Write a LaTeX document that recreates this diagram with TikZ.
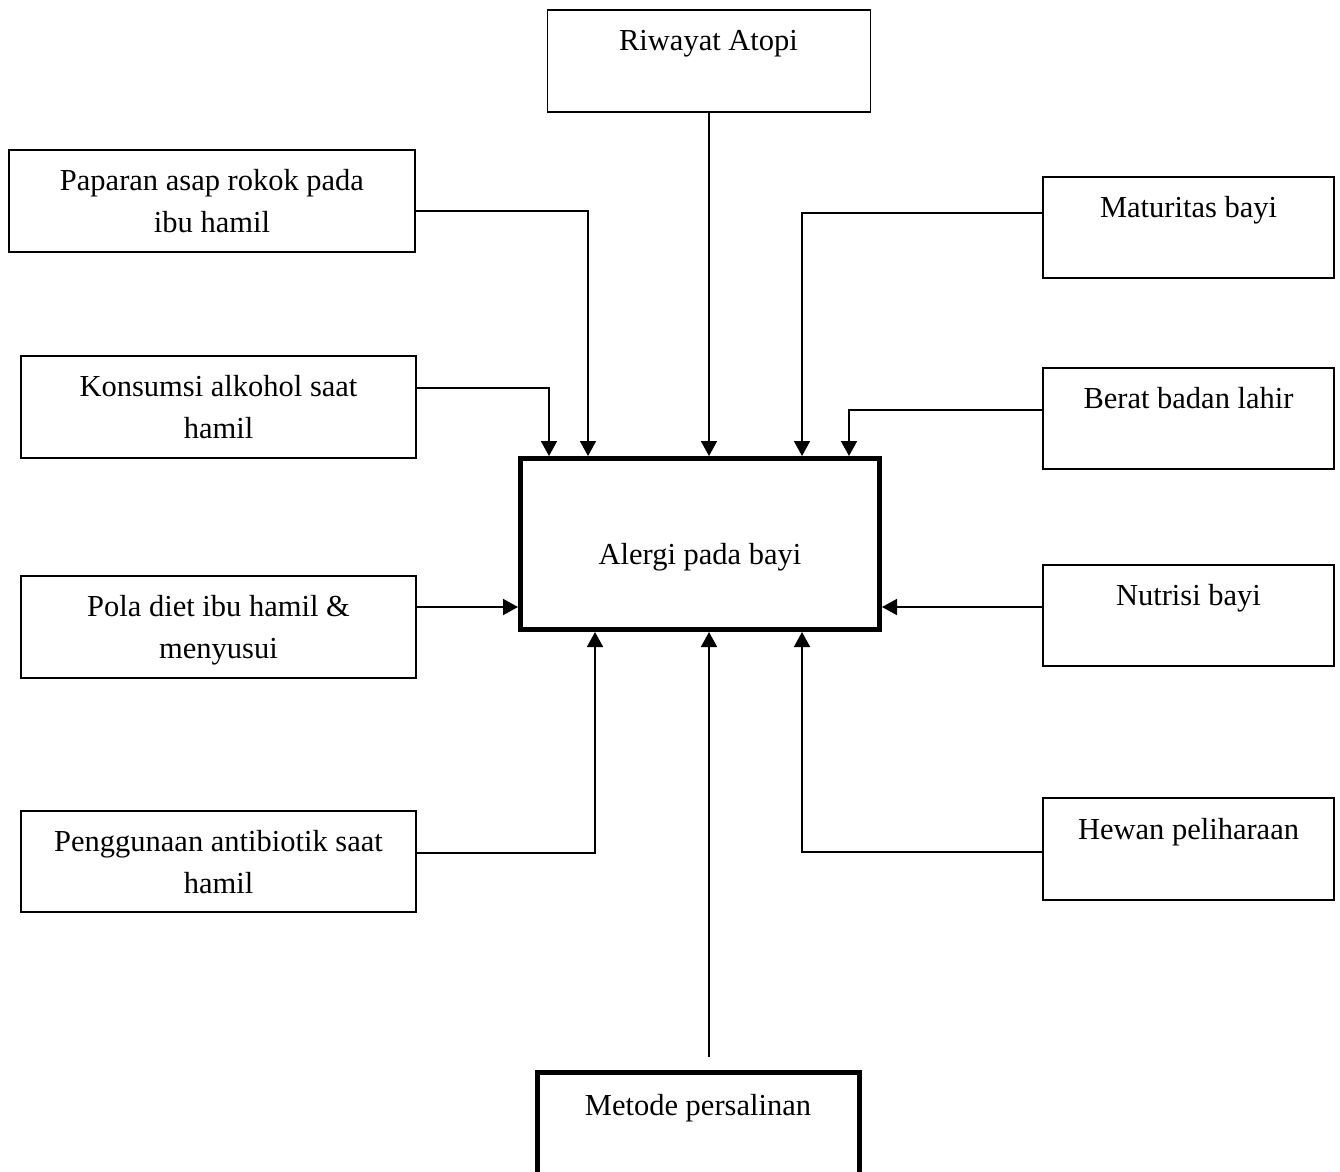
\documentclass[tikz,border=0pt]{standalone}
\usepackage{fontspec}
\setmainfont{Liberation Serif}
\usetikzlibrary{arrows.meta}
\begin{document}
\begin{tikzpicture}[x=1pt,y=-1pt,
  box/.style={draw=black, line width=1.4pt, rectangle, inner sep=0pt, minimum height=102pt},
  lbox/.style={box, minimum width=395pt},
  rbox/.style={box, minimum width=291pt},
  thickbox/.style={draw=black, line width=5pt, rectangle, inner sep=0pt},
  lbl/.style={anchor=base, inner sep=0pt, font=\fontsize{30.5}{42}\selectfont},
  conn/.style={line width=1.7pt},
  arr/.style={conn, -{Triangle[width=16pt,length=15pt]}}]
\useasboundingbox (0,0) rectangle (1340,1171);
\clip (0,0) rectangle (1340,1171);
\fill[white] (0,0) rectangle (1340,1171);
% boxes
\node[box, minimum width=323pt] (riw) at (709,61) {};
\node[box, minimum width=406pt] (pap) at (212,201) {};
\node[lbox] (kon) at (218.5,407) {};
\node[lbox] (pol) at (218.5,627) {};
\node[lbox, minimum height=101pt] (pen) at (218.5,861.5) {};
\node[rbox, minimum height=101pt] (mat) at (1188.5,227.5) {};
\node[rbox, minimum height=101pt] (ber) at (1188.5,418.5) {};
\node[rbox, minimum height=101pt] (nut) at (1188.5,615.5) {};
\node[rbox] (hew) at (1188.5,849) {};
\node[thickbox, minimum width=359pt, minimum height=171pt] (alg) at (700,544) {};
\node[thickbox, minimum width=322pt, minimum height=150pt] (met) at (698,1147) {};
% labels
\node[lbl] (riwT) at (708.5,50) {Riwayat Atopi};
\node[lbl] (papT1) at (212,190) {Paparan asap rokok pada};
\node[lbl] (papT2) at (212,232) {ibu hamil};
\node[lbl] (konT1) at (218.5,396) {Konsumsi alkohol saat};
\node[lbl] (konT2) at (218.5,438) {hamil};
\node[lbl] (polT1) at (218.5,616) {Pola diet ibu hamil \&};
\node[lbl] (polT2) at (218.5,658) {menyusui};
\node[lbl] (penT1) at (218.5,851) {Penggunaan antibiotik saat};
\node[lbl] (penT2) at (218.5,893) {hamil};
\node[lbl] (matT) at (1188.5,217) {Maturitas bayi};
\node[lbl] (berT) at (1188.5,408) {Berat badan lahir};
\node[lbl] (nutT) at (1188.5,605) {Nutrisi bayi};
\node[lbl] (hewT) at (1188.5,839) {Hewan peliharaan};
\node[lbl] (algT) at (700,564) {Alergi pada bayi};
\node[lbl] (metT) at (698,1115) {Metode persalinan};
% connectors
\coordinate (mfree) at (709,1057);
\draw[arr] (riw.south) -- (riw.south |- alg.north);
\draw[arr] (pap.east |- 0,211) -| (alg.north -| 588,0);
\draw[arr] (kon.east |- 0,388) -| (alg.north -| 549,0);
\draw[arr] (mat.west |- 0,213) -| (alg.north -| 802,0);
\draw[arr] (ber.west |- 0,410) -| (alg.north -| 849,0);
\draw[arr] (pol.east |- 0,607) -- (alg.west |- 0,607);
\draw[arr] (nut.west |- 0,607) -- (alg.east |- 0,607);
\draw[arr] (pen.east |- 0,853) -| (alg.south -| 595,0);
\draw[arr] (hew.west |- 0,852) -| (alg.south -| 802,0);
\draw[arr] (mfree) -- (mfree |- alg.south);
\end{tikzpicture}
\end{document}
